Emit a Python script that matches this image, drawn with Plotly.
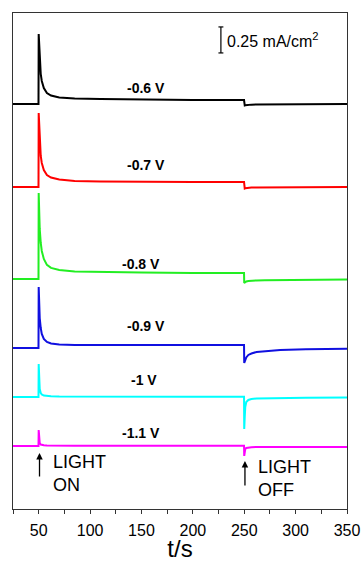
import plotly.graph_objects as go

# Time axis (s): light switched on at 50 s and off at 250 s
t = [25, 49.8, 50, 50.5, 51, 52, 53, 55, 58, 62, 70, 85, 110, 150, 200, 249.8,
     250, 250.5, 251, 252, 254, 257, 262, 270, 285, 310, 350]

# Photocurrent transients (mA/cm^2) relative to each trace's dark baseline
j_m06 = [0, 0, 0.673, 0.529, 0.404, 0.288, 0.221, 0.154, 0.106, 0.082, 0.063, 0.053,
         0.048, 0.043, 0.038, 0.038, -0.014, -0.014, -0.012, -0.010, -0.008, -0.006,
         -0.005, -0.004, -0.003, -0.002, 0.0]
j_m07 = [0, 0, 0.712, 0.548, 0.413, 0.298, 0.231, 0.163, 0.115, 0.091, 0.072, 0.058,
         0.053, 0.048, 0.048, 0.048, -0.014, -0.014, -0.012, -0.010, -0.008, -0.006,
         -0.005, -0.004, -0.003, -0.002, 0.0]
j_m08 = [0, 0, 0.827, 0.635, 0.481, 0.346, 0.269, 0.192, 0.135, 0.106, 0.087, 0.072,
         0.067, 0.063, 0.058, 0.058, -0.038, -0.034, -0.029, -0.024, -0.019, -0.016,
         -0.014, -0.012, -0.010, -0.008, -0.005]
j_m09 = [0, 0, 0.587, 0.404, 0.288, 0.192, 0.135, 0.087, 0.058, 0.043, 0.034, 0.029,
         0.029, 0.029, 0.029, 0.029, -0.144, -0.125, -0.111, -0.091, -0.067, -0.053,
         -0.038, -0.029, -0.019, -0.012, -0.007]
j_m10 = [0, 0, 0.317, 0.144, 0.077, 0.038, 0.024, 0.014, 0.010, 0.007, 0.005, 0.004,
         0.003, 0.003, 0.003, 0.003, -0.308, -0.192, -0.096, -0.048, -0.029, -0.019,
         -0.014, -0.012, -0.010, -0.008, -0.005]
j_m11 = [0, 0, 0.154, 0.058, 0.029, 0.014, 0.010, 0.007, 0.005, 0.004, 0.003, 0.003,
         0.003, 0.003, 0.003, 0.003, -0.096, -0.058, -0.029, -0.019, -0.014, -0.012,
         -0.010, -0.010, -0.010, -0.010, -0.010]

potentials = ["-0.6 V", "-0.7 V", "-0.8 V", "-0.9 V", "-1 V", "-1.1 V"]
currents = [j_m06, j_m07, j_m08, j_m09, j_m10, j_m11]
offsets = [3.894, 3.096, 2.212, 1.548, 1.077, 0.606]
colors = ["#000000", "#ff0000", "#22ee22", "#1010e0", "#00ffff", "#ff00ff"]
label_x = [154, 154, 150, 154, 152, 150]
label_y = [4.048, 3.307, 2.356, 1.760, 1.240, 0.731]

x_ticks = [25, 50, 75, 100, 125, 150, 175, 200, 225, 250, 275, 300, 325, 350]
x_ticktext = ["", "50", "", "100", "", "150", "", "200", "", "250", "", "300", "", "350"]

FONT = "Arial, Liberation Sans, sans-serif"

fig = go.Figure()
for name, j, off, col in zip(potentials, currents, offsets, colors):
    fig.add_trace(go.Scatter(
        x=t, y=[v + off for v in j], mode="lines", name=name,
        line=dict(color=col, width=2), showlegend=False, hoverinfo="skip"))

annotations = []
for name, lx, ly in zip(potentials, label_x, label_y):
    annotations.append(dict(x=lx, y=ly, text="<b>%s</b>" % name, showarrow=False,
                            font=dict(family=FONT, size=14, color="black"),
                            xanchor="center", yanchor="middle"))

# Light on / off markers
annotations += [
    dict(x=50.8, y=0.538, ax=0, ay=25, text="", showarrow=True, arrowhead=2,
         arrowsize=1, arrowwidth=1.3, arrowcolor="black"),
    dict(x=62, y=0.346, text="LIGHT<br>ON", showarrow=False, xanchor="left",
         yanchor="middle", align="left", font=dict(family=FONT, size=18, color="black")),
    dict(x=250.7, y=0.462, ax=0, ay=26, text="", showarrow=True, arrowhead=2,
         arrowsize=1, arrowwidth=1.3, arrowcolor="black"),
    dict(x=261, y=0.298, text="LIGHT<br>OFF", showarrow=False, xanchor="left",
         yanchor="middle", align="left", font=dict(family=FONT, size=18, color="black")),
]

# Scale bar: 0.25 mA/cm^2
sb_x, sb_y0, sb_len = 227.3, 4.385, 0.25
shapes = [
    dict(type="line", x0=sb_x, x1=sb_x, y0=sb_y0, y1=sb_y0 + sb_len,
         line=dict(color="black", width=1.2)),
    dict(type="line", x0=sb_x - 2.4, x1=sb_x + 2.4, y0=sb_y0, y1=sb_y0,
         line=dict(color="black", width=1.2)),
    dict(type="line", x0=sb_x - 2.4, x1=sb_x + 2.4, y0=sb_y0 + sb_len, y1=sb_y0 + sb_len,
         line=dict(color="black", width=1.2)),
]
annotations.append(dict(x=sb_x + 3.5, y=sb_y0 + sb_len / 2, text="0.25 mA/cm<sup>2</sup>",
                        showarrow=False, xanchor="left", yanchor="middle",
                        font=dict(family=FONT, size=16, color="black")))

fig.update_layout(
    width=363, height=562,
    margin=dict(l=13, r=16, t=13, b=53, autoexpand=False),
    paper_bgcolor="white", plot_bgcolor="white",
    annotations=annotations, shapes=shapes,
    xaxis=dict(range=[25, 350], tickvals=x_ticks, ticktext=x_ticktext,
               ticks="outside", ticklen=4, tickcolor="#333", showgrid=False,
               zeroline=False, showline=True, linecolor="#333", linewidth=1,
               mirror=True, automargin=False, ticklabelstandoff=3,
               tickfont=dict(family=FONT, size=16, color="black"),
               title=dict(text="t/s", font=dict(family=FONT, size=24, color="black"),
                          standoff=2)),
    yaxis=dict(range=[0, 4.769], showticklabels=False, ticks="", showgrid=False,
               zeroline=False, showline=True, linecolor="#333", linewidth=1,
               mirror=True, automargin=False),
)

fig.write_html("out.html")
